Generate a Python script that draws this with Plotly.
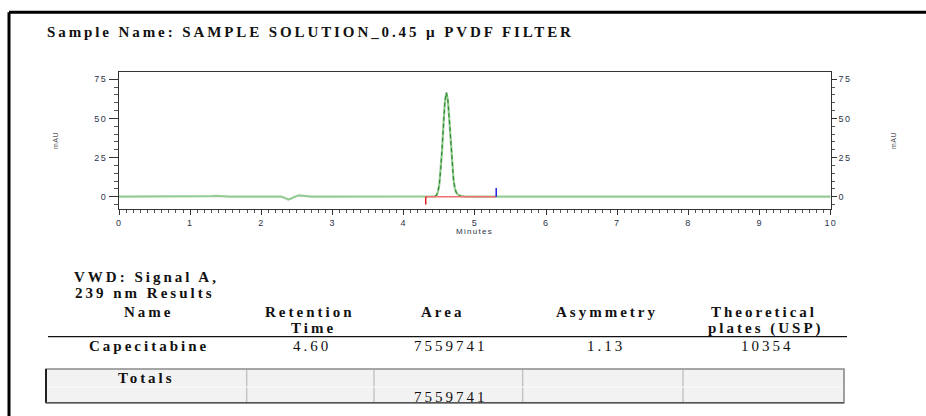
import plotly.graph_objects as go

W, H = 926, 416

# ---------------- data ----------------
title_text = "Sample Name: SAMPLE SOLUTION_0.45 µ PVDF FILTER"

time_min = [0.0, 0.5, 1.0, 1.2, 1.3, 1.36, 1.42, 1.55, 2.0, 2.28, 2.34, 2.38,
            2.42, 2.47, 2.53, 2.6, 2.7, 3.0, 4.0, 4.40, 4.44, 4.46, 4.48, 4.50,
            4.52, 4.54, 4.56, 4.58, 4.60, 4.62, 4.64, 4.66, 4.68, 4.70, 4.72,
            4.74, 4.77, 4.80, 4.85, 4.90, 6.0, 8.0, 10.0]
signal_mau = [0.0, 0.0, 0.1, 0.2, 0.4, 0.5, 0.4, 0.1, 0.0, 0.0, -1.0, -1.8,
              -1.2, 0.0, 0.8, 0.6, 0.1, 0.0, 0.0, 0.0, 0.25, 0.9, 2.9, 7.6,
              16.6, 30.0, 47.0, 61.0, 66.5, 62.0, 50.0, 35.0, 21.0, 11.0, 5.2,
              2.5, 1.0, 0.5, 0.2, 0.0, 0.0, 0.0, 0.0]

peak_start_time = 4.44
peak_end_time = 4.80
baseline_start = 4.31
baseline_end = 5.30
baseline_marks = [-5.0, 5.5]   # red mark goes down, blue mark goes up

y_tick_vals = [0, 25, 50, 75]
y_tick_text = ["0", "25", "50", "75"]
x_tick_vals = [0, 1, 2, 3, 4, 5, 6, 7, 8, 9, 10]
x_tick_text = ["0", "1", "2", "3", "4", "5", "6", "7", "8", "9", "10"]

section_title = ["VWD: Signal A,", "239 nm Results"]
header_line1 = ["Name", "Retention", "Area", "Asymmetry", "Theoretical"]
header_line2 = ["", "Time", "", "", "plates (USP)"]
row_values = ["Capecitabine", "4.60", "7559741", "1.13", "10354"]
totals_values = ["Totals", "", "7559741", "", ""]

# ---------------- layout helpers ----------------
def px(x):
    return x / W

def py(y):
    return 1 - y / H

def spaced(t, ls):
    return '<span style="letter-spacing:%spx">%s</span>' % (ls, t)

SERIF = "Liberation Serif"
SANS = "Liberation Sans"
TICKCOL = "#2c3448"

sub_in_peak = [i for i, t in enumerate(time_min) if peak_start_time <= t <= peak_end_time]

fig = go.Figure()

fig.add_trace(go.Scatter(x=time_min, y=signal_mau, mode="lines",
                         line=dict(color="#96cc96", width=2.2), hoverinfo="skip"))
fig.add_trace(go.Scatter(x=[time_min[i] for i in sub_in_peak],
                         y=[signal_mau[i] for i in sub_in_peak], mode="lines",
                         line=dict(color="#2f8a2f", width=1.2, dash="4px,3px"),
                         hoverinfo="skip"))
# integration baseline
fig.add_trace(go.Scatter(x=[baseline_start, baseline_end], y=[0, 0], mode="lines",
                         line=dict(color="#f07070", width=1.6), hoverinfo="skip"))
fig.add_trace(go.Scatter(x=[baseline_start, baseline_start], y=[0, baseline_marks[0]],
                         mode="lines", line=dict(color="#e01010", width=1.4), hoverinfo="skip"))
fig.add_trace(go.Scatter(x=[baseline_end, baseline_end], y=[0, baseline_marks[1]],
                         mode="lines", line=dict(color="#1010e0", width=1.4), hoverinfo="skip"))
# invisible trace for right axis
fig.add_trace(go.Scatter(x=[0], y=[0], yaxis="y2", mode="markers",
                         marker=dict(opacity=0), hoverinfo="skip"))

yr = [-8.05, 79.66]
tickfont = dict(family=SANS, size=9, color=TICKCOL)

fig.update_layout(
    template="none",
    width=W, height=H, margin=dict(l=0, r=0, t=0, b=0, pad=0), autosize=False,
    paper_bgcolor="white", plot_bgcolor="white", showlegend=False,
    xaxis=dict(domain=[px(119), px(830.7)], range=[0, 10], showgrid=False, zeroline=False,
               automargin=False,
               showline=True, linecolor="#333", linewidth=1, mirror=True,
               ticks="outside", ticklen=5, tickwidth=1, tickcolor="#333",
               tickvals=x_tick_vals, ticktext=[spaced(t, 1.2) for t in x_tick_text],
               tickfont=tickfont,
               minor=dict(dtick=0.1, ticklen=3, tickwidth=1, tickcolor="#555", ticks="outside", showgrid=False)),
    yaxis=dict(domain=[py(209.3), py(72)], range=yr, showgrid=False, zeroline=False,
               automargin=False,
               showline=True, linecolor="#333", linewidth=1,
               ticks="outside", ticklen=9, tickwidth=1, tickcolor="#333",
               tickvals=y_tick_vals, ticktext=[spaced(t, 1.5) for t in y_tick_text],
               tickfont=tickfont,
               minor=dict(dtick=5, tick0=0, ticklen=4, tickwidth=1, tickcolor="#555", ticks="outside", showgrid=False)),
    yaxis2=dict(domain=[py(209.3), py(72)], range=yr, overlaying="y", side="right",
                automargin=False,
                showgrid=False, zeroline=False, showline=True, linecolor="#333", linewidth=1,
                ticks="outside", ticklen=5, tickwidth=1, tickcolor="#333",
                tickvals=y_tick_vals, ticktext=[spaced(t, 1.5) for t in y_tick_text],
                tickfont=tickfont,
                minor=dict(dtick=5, tick0=0, ticklen=3, tickwidth=1, tickcolor="#555", ticks="outside", showgrid=False)),
)

shapes = []
# outer black frame
shapes.append(dict(type="line", xref="paper", yref="paper", x0=px(9), x1=px(940), y0=py(12.3), y1=py(12.3),
                   line=dict(color="black", width=3)))
shapes.append(dict(type="line", xref="paper", yref="paper", x0=px(9), x1=px(9), y0=py(12.3), y1=py(430),
                   line=dict(color="black", width=3)))
# header rule
shapes.append(dict(type="line", xref="paper", yref="paper", x0=px(48), x1=px(847), y0=py(336.7), y1=py(336.7),
                   line=dict(color="#111", width=1.2)))
# totals box
shapes.append(dict(type="rect", xref="paper", yref="paper", x0=px(46), x1=px(844), y0=py(402.7), y1=py(369),
                   fillcolor="#f2f2f2", line=dict(color="#8a8a8a", width=1.6), layer="below"))
shapes.append(dict(type="line", xref="paper", yref="paper", x0=px(46), x1=px(46), y0=py(402.7), y1=py(369),
                   line=dict(color="#222", width=2)))
shapes.append(dict(type="line", xref="paper", yref="paper", x0=px(46), x1=px(844), y0=py(402.7), y1=py(402.7),
                   line=dict(color="#555", width=1.6)))
for xd in [246.7, 374, 522.7, 683]:
    shapes.append(dict(type="line", xref="paper", yref="paper", x0=px(xd), x1=px(xd), y0=py(402), y1=py(370),
                       line=dict(color="#c4c4c4", width=1.5)))
shapes.append(dict(type="line", xref="paper", yref="paper", x0=px(47), x1=px(843), y0=py(387), y1=py(387),
                   line=dict(color="#fbfbfb", width=1)))
fig.update_layout(shapes=shapes)

ann = []
def add_text(text, x, y, size=15, family=SERIF, bold=False, ls=3, color="#111",
             xanchor="center", angle=0):
    t = spaced(text, ls) if ls else text
    if bold:
        t = "<b>" + t + "</b>"
    ann.append(dict(text=t, x=px(x), y=py(y), xref="paper", yref="paper", showarrow=False,
                    xanchor=xanchor, yanchor="middle", textangle=angle, borderpad=0,
                    font=dict(family=family, size=size, color=color)))

add_text(title_text, 46, 31.7, size=15, bold=True, ls=2.9, xanchor="left")
add_text("mAU", 55, 141, size=7, family=SANS, ls=0.5, color="#555", angle=-90)
add_text("mAU", 893, 141, size=7, family=SANS, ls=0.5, color="#555", angle=-90)
add_text("Minutes", 475, 231.7, size=8, family=SANS, ls=1.3, color=TICKCOL)

add_text(section_title[0], 146.5, 276.7, bold=True)
add_text(section_title[1], 145, 293.3, bold=True)

head_x1 = [149, 309.5, 442.5, 606.7, 764]
head_x2 = [149, 313, 442.5, 606.7, 766]
val_x = [149, 312, 450.5, 606, 767.5]
for i in range(5):
    add_text(header_line1[i], head_x1[i], 311.7, bold=True)
    if header_line2[i]:
        add_text(header_line2[i], head_x2[i], 328, bold=True)
    add_text(row_values[i], val_x[i], 346, bold=(i == 0))
    if totals_values[i]:
        if i == 0:
            add_text(totals_values[i], 146.7, 378.3, bold=True)
        else:
            add_text(totals_values[i], val_x[i], 396.7)

fig.update_layout(annotations=ann)

fig.write_html("out.html", config={"displayModeBar": False},
               post_script="document.body.style.margin='0';document.body.style.overflow='hidden';")
